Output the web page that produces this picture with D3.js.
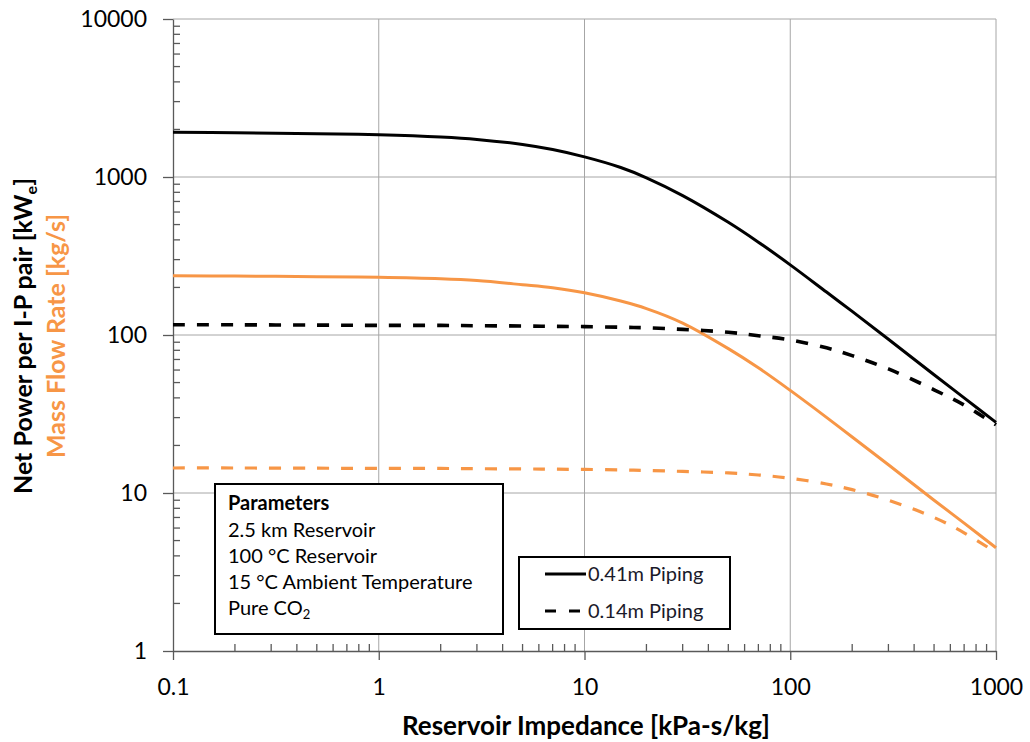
<!DOCTYPE html>
<html lang="en">
  <head>
    <meta charset="UTF-8" />
    <title>Net Power and Mass Flow vs Reservoir Impedance</title>
    <script src="https://d3js.org/d3.v7.min.js"></script>
    <style>
      body {
        margin: 0;
        background: #fff;
      }
      text {
        font-family: Lato, "Open Sans", sans-serif;
      }
      .grid line {
        stroke: #a6a6a6;
        stroke-width: 1;
      }
      .axis path,
      .axis line {
        stroke: #595959;
        stroke-width: 1.3;
      }
      .axis text {
        font-size: 23px;
        fill: #000;
      }
    </style>
  </head>
  <body>
    <svg width="1030" height="742"></svg>
    <script>
      // reservoir impedance [kPa-s/kg], shared by every series
      const impedance = [
        0.1, 0.2, 0.5, 1, 2, 3, 5, 7, 10, 15, 20, 30, 50, 70, 100, 150, 200,
        300, 500, 700, 1000,
      ];
      // net power per I-P pair [kWe]
      const power041 = [
        1920, 1905, 1880, 1850, 1790, 1730, 1606, 1491, 1340, 1148, 989, 763,
        517, 387, 278, 187, 141, 94, 56, 40, 28,
      ];
      const power014 = [
        116, 116, 115.5, 115, 115, 114.5, 114, 113.5, 113, 112, 111, 108.5,
        104, 99, 93, 83, 74, 61, 45, 36, 27,
      ];
      // mass flow rate [kg/s]
      const flow041 = [
        237, 236, 234, 232, 227, 221, 208, 199, 185, 164, 147, 119, 82, 62,
        44.6, 30.1, 22.6, 15.1, 9.0, 6.45, 4.5,
      ];
      const flow014 = [
        14.4, 14.4, 14.35, 14.3, 14.3, 14.25, 14.2, 14.15, 14.1, 14.0, 13.9,
        13.7, 13.4, 13.0, 12.4, 11.4, 10.5, 9.0, 7.0, 5.6, 4.2,
      ];
      const xTicks = [0.1, 1, 10, 100, 1000];
      const yTicks = [1, 10, 100, 1000, 10000];
      const parameterLines = [
        "2.5 km Reservoir",
        "100 °C Reservoir",
        "15 °C Ambient Temperature",
      ];
      const legendLabels = ["0.41m Piping", "0.14m Piping"];

      const orange = "#f79646";
      const svg = d3.select("svg");
      const plotLeft = 173,
        plotRight = 996,
        plotTop = 19,
        plotBottom = 651;

      const x = d3.scaleLog().domain([0.1, 1000]).range([plotLeft, plotRight]);
      const y = d3.scaleLog().domain([1, 10000]).range([plotBottom, plotTop]);

      // minor tick values 2..9 in every decade
      function minors(lo, hi) {
        const out = [];
        for (let d = lo; d < hi; d *= 10) {
          for (let k = 2; k <= 9; k++) out.push(d * k);
        }
        return out;
      }

      // gridlines
      const grid = svg.append("g").attr("class", "grid");
      grid
        .selectAll("line.h")
        .data(yTicks.slice(1))
        .enter()
        .append("line")
        .attr("class", "h")
        .attr("x1", plotLeft)
        .attr("x2", plotRight)
        .attr("y1", (d) => y(d))
        .attr("y2", (d) => y(d));
      grid
        .selectAll("line.v")
        .data(xTicks.slice(1))
        .enter()
        .append("line")
        .attr("class", "v")
        .attr("x1", (d) => x(d))
        .attr("x2", (d) => x(d))
        .attr("y1", plotTop)
        .attr("y2", plotBottom);

      // axes
      const xAxis = svg
        .append("g")
        .attr("class", "axis")
        .attr("transform", `translate(0,${plotBottom})`)
        .call(
          d3
            .axisBottom(x)
            .tickValues(xTicks)
            .tickFormat((d) => String(d))
            .tickSizeInner(9)
            .tickSizeOuter(0)
            .tickPadding(19)
        );
      xAxis
        .selectAll(".minor")
        .data(minors(0.1, 1000))
        .enter()
        .append("line")
        .attr("class", "minor")
        .attr("x1", (d) => x(d))
        .attr("x2", (d) => x(d))
        .attr("y1", 0)
        .attr("y2", -7);

      const yAxis = svg
        .append("g")
        .attr("class", "axis")
        .attr("transform", `translate(${plotLeft},0)`)
        .call(
          d3
            .axisLeft(y)
            .tickValues(yTicks)
            .tickFormat((d) => String(d))
            .tickSizeInner(10)
            .tickSizeOuter(0)
            .tickPadding(16)
        );
      yAxis
        .selectAll(".minor")
        .data(minors(1, 10000))
        .enter()
        .append("line")
        .attr("class", "minor")
        .attr("x1", 0)
        .attr("x2", 7)
        .attr("y1", (d) => y(d))
        .attr("y2", (d) => y(d));

      // curves
      const series = [
        { values: flow014, color: orange, width: 3.2, dash: "12,12" },
        { values: flow041, color: orange, width: 3, dash: null },
        { values: power014, color: "#000", width: 3.6, dash: "12,12" },
        { values: power041, color: "#000", width: 3, dash: null },
      ];
      const line = d3
        .line()
        .x((d) => x(d[0]))
        .y((d) => y(d[1]))
        .curve(d3.curveCatmullRom.alpha(0.5));

      svg
        .append("g")
        .selectAll("path")
        .data(series)
        .enter()
        .append("path")
        .attr("fill", "none")
        .attr("stroke", (d) => d.color)
        .attr("stroke-width", (d) => d.width)
        .attr("stroke-dasharray", (d) => d.dash)
        .attr("d", (d) => line(impedance.map((v, i) => [v, d.values[i]])));

      // axis titles
      svg
        .append("text")
        .attr("x", 586)
        .attr("y", 735)
        .attr("text-anchor", "middle")
        .attr("font-size", 26)
        .attr("font-weight", "bold")
        .text("Reservoir Impedance [kPa-s/kg]");

      const yTitle1 = svg
        .append("text")
        .attr("transform", "translate(32,336) rotate(-90)")
        .attr("text-anchor", "middle")
        .attr("font-size", 25)
        .attr("font-weight", "bold")
        .attr("fill", "#000");
      yTitle1.append("tspan").text("Net Power per I-P pair [kW");
      yTitle1
        .append("tspan")
        .attr("font-size", 16)
        .attr("dy", 5)
        .text("e");
      yTitle1.append("tspan").attr("dy", -5).text("]");

      svg
        .append("text")
        .attr("transform", "translate(65,336) rotate(-90)")
        .attr("text-anchor", "middle")
        .attr("font-size", 25)
        .attr("font-weight", "bold")
        .attr("fill", orange)
        .text("Mass Flow Rate [kg/s]");

      // parameters box
      svg
        .append("rect")
        .attr("x", 215)
        .attr("y", 484)
        .attr("width", 288)
        .attr("height", 150)
        .attr("fill", "#fff")
        .attr("stroke", "#000")
        .attr("stroke-width", 2);

      svg
        .append("text")
        .attr("x", 228)
        .attr("y", 510)
        .attr("font-size", 20)
        .attr("font-weight", "bold")
        .text("Parameters");

      svg
        .append("g")
        .selectAll("text")
        .data(parameterLines)
        .enter()
        .append("text")
        .attr("x", 228)
        .attr("y", (d, i) => 537 + i * 26)
        .attr("font-size", 20)
        .text((d) => d);

      const co2 = svg
        .append("text")
        .attr("x", 228)
        .attr("y", 615)
        .attr("font-size", 20);
      co2.append("tspan").text("Pure CO");
      co2.append("tspan").attr("font-size", 13).attr("dy", 4).text("2");

      // legend
      svg
        .append("rect")
        .attr("x", 519)
        .attr("y", 557)
        .attr("width", 211)
        .attr("height", 72)
        .attr("fill", "#fff")
        .attr("stroke", "#000")
        .attr("stroke-width", 2);

      const legend = svg
        .append("g")
        .selectAll("g")
        .data(legendLabels)
        .enter()
        .append("g")
        .attr("transform", (d, i) => `translate(545,${574 + i * 37})`);
      legend
        .append("line")
        .attr("x1", 0)
        .attr("x2", 41)
        .attr("stroke", "#000")
        .attr("stroke-width", 3)
        .attr("stroke-dasharray", (d, i) => (i === 1 ? "11,13" : null));
      legend
        .append("text")
        .attr("x", 43)
        .attr("y", 7)
        .attr("font-size", 20)
        .attr("fill", "#1a1a2a")
        .text((d) => d);
    </script>
  </body>
</html>
